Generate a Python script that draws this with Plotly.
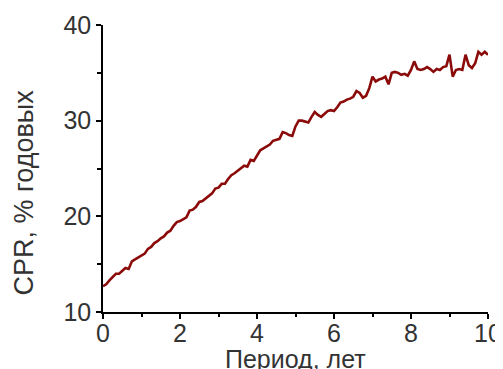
import plotly.graph_objects as go

# monthly periods, years
months = list(range(121))
cpr = [
    12.7, 12.9, 13.3, 13.6, 14.0, 14.0, 14.3, 14.6, 14.5, 15.3, 15.5, 15.7,
    15.9, 16.1, 16.6, 16.8, 17.2, 17.4, 17.7, 17.9, 18.3, 18.5, 19.0, 19.4,
    19.5, 19.7, 19.9, 20.6, 20.7, 21.0, 21.5, 21.6, 21.9, 22.2, 22.4, 22.9,
    23.0, 23.4, 23.4, 23.9, 24.3, 24.5, 24.8, 25.0, 25.3, 25.2, 25.9, 25.8,
    26.3, 26.9, 27.1, 27.3, 27.5, 27.9, 28.0, 28.1, 28.8, 28.7, 28.5, 28.4,
    29.4, 30.0, 30.0, 29.9, 29.8, 30.4, 30.9, 30.6, 30.4, 30.7, 31.0, 31.1,
    31.0, 31.4, 31.9, 32.0, 32.2, 32.3, 32.5, 33.1, 32.9, 32.4, 32.6, 33.4,
    34.6, 34.1, 34.3, 34.4, 34.6, 33.8, 35.0, 35.1, 35.0, 34.8, 34.9, 34.7,
    35.3, 36.2, 35.4, 35.3, 35.4, 35.6, 35.4, 35.1, 35.4, 35.3, 35.6, 35.7,
    36.9, 34.6, 35.3, 35.4, 35.3, 36.9, 35.8, 35.5, 36.0, 37.2, 36.9, 37.2,
    36.9,
]
years = [m / 12 for m in months]

x_title = "Период, лет"
y_title = "CPR, % годовых"

font_family = "Arial, Liberation Sans, sans-serif"
text_color = "#333333"
fsize = 25

fig = go.Figure(
    go.Scatter(
        x=years, y=cpr, mode="lines",
        line=dict(color="#8b0a0a", width=2.6),
        hoverinfo="skip",
    )
)

axis_common = dict(
    showline=True, linecolor="black", linewidth=1.5,
    ticks="outside", ticklen=5, tickwidth=1.5, tickcolor="black",
    showgrid=False, zeroline=False,
    tickfont=dict(family=font_family, size=fsize, color=text_color),
    automargin=False,
)

fig.update_xaxes(
    range=[0, 10], dtick=2, tick0=0,
    minor=dict(ticks="outside", ticklen=3, dtick=1, tickcolor="black", tickwidth=1.5),
    ticklabelstandoff=-7,
    **axis_common,
)
fig.update_yaxes(
    range=[10, 40], dtick=10, tick0=10,
    minor=dict(ticks="outside", ticklen=4, dtick=5, tickcolor="black", tickwidth=1.5),
    **axis_common,
)

fig.add_annotation(
    text=x_title, xref="x", yref="paper", x=5, y=-0.108,
    xanchor="center", yanchor="top", showarrow=False,
    font=dict(family=font_family, size=fsize, color=text_color),
)
fig.add_annotation(
    text=y_title, xref="paper", yref="y", x=-0.205, y=22.5,
    xanchor="center", yanchor="middle", textangle=-90, showarrow=False,
    font=dict(family=font_family, size=27, color=text_color),
)

fig.update_layout(
    width=503, height=369,
    margin=dict(l=95, r=23, t=17, b=65),
    plot_bgcolor="white", paper_bgcolor="white",
    showlegend=False,
)

fig.write_html("out.html")
